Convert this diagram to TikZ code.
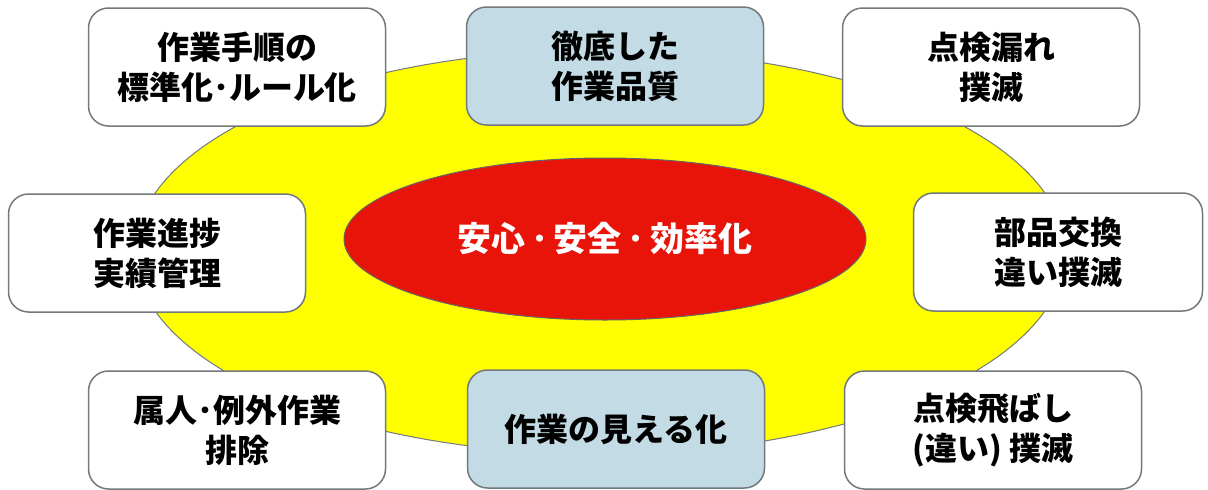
\documentclass[tikz,border=0pt]{standalone}
\usepackage{fontspec}
\newfontfamily\jp{Noto Sans CJK JP}
\newfontfamily\jpheavy{Noto Sans CJK JP Black}
\usetikzlibrary{shapes.geometric}
\definecolor{boxline}{rgb}{0.45,0.47,0.49}
\definecolor{paleblue}{rgb}{0.76,0.86,0.90}
\definecolor{ringyellow}{rgb}{1,1,0}
\definecolor{corered}{rgb}{0.91,0.08,0.04}
\begin{document}
\begin{tikzpicture}[x=1pt,y=-1pt,
  item/.style={draw=boxline,line width=1.5pt,fill=white,rounded corners=20pt,
    minimum width=297pt,minimum height=118pt,align=center,
    font={\jpheavy\fontsize{32}{40}\selectfont}},
  keyitem/.style={item,fill=paleblue}]
\useasboundingbox (0,0) rectangle (1208,490);
\node[ellipse,draw=boxline,line width=1pt,fill=ringyellow,minimum width=930pt,minimum height=404pt] (ring) at (600,252) {};
\node[ellipse,draw=black!60,line width=1pt,fill=corered,minimum width=522pt,minimum height=162pt,
  text=white,font={\jp\bfseries\fontsize{34}{40}\selectfont}] (core) at (605,239) {安心\,･\,安全\,･\,効率化};
\node[item] (rules) at (237,67) {作業手順の\\標準化･ルール化};
\node[keyitem] (quality) at (615,66) {徹底した\\作業品質};
\node[item] (misscheck) at (991,67) {点検漏れ\\撲滅};
\node[item] (progress) at (157,253) {作業進捗\\実績管理};
\node[item,minimum width=289pt] (parts) at (1058,252) {部品交換\\違い撲滅};
\node[item] (exception) at (237,430) {属人･例外作業\\排除};
\node[keyitem] (visible) at (616,429) {作業の見える化};
\node[item] (skipcheck) at (993,430) {点検飛ばし\\(違い) 撲滅};
\end{tikzpicture}
\end{document}
